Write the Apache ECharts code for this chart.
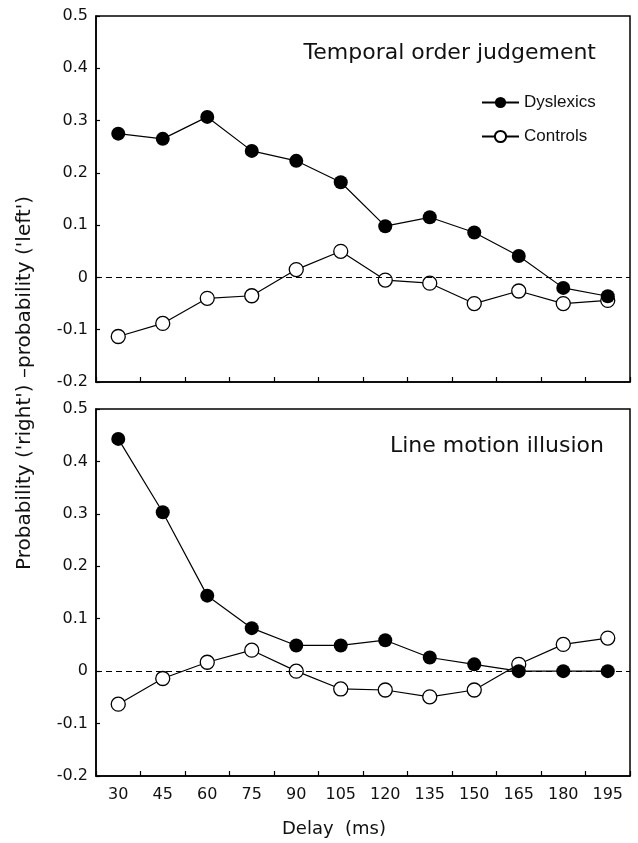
<!DOCTYPE html>
<html>
<head>
<meta charset="utf-8">
<script src="https://cdn.jsdelivr.net/npm/echarts@6/dist/echarts.min.js"></script>
<style>
  html, body { margin: 0; padding: 0; background: #fff; }
  #chart { width: 638px; height: 843px; }
</style>
</head>
<body>
<div id="chart"></div>
<script>
  // delay categories (ms)
  var delays = ['30', '45', '60', '75', '90', '105', '120', '135', '150', '165', '180', '195']
  // temporal order judgement
  var tojDyslexics = [0.275, 0.265, 0.307, 0.242, 0.223, 0.182, 0.098, 0.115, 0.086, 0.041, -0.020, -0.036]
  var tojControls = [-0.113, -0.088, -0.040, -0.035, 0.015, 0.050, -0.005, -0.011, -0.050, -0.026, -0.050, -0.044]
  // line motion illusion
  var lmiDyslexics = [0.443, 0.303, 0.144, 0.082, 0.049, 0.049, 0.059, 0.026, 0.013, 0, 0, 0]
  var lmiControls = [-0.063, -0.014, 0.017, 0.040, 0, -0.034, -0.036, -0.049, -0.036, 0.013, 0.051, 0.063]
  var seriesNames = ['Dyslexics', 'Controls']
  var panelTitles = ['Temporal order judgement', 'Line motion illusion']
  var yMin = -0.2
  var yMax = 0.5
  var yStep = 0.1

  var FONT = 'DejaVu Sans'
  var chart = echarts.init(document.getElementById('chart'), null, {renderer: 'canvas'})

  function xAxisFor (idx, showLabels) {
    return {
      type: 'category',
      gridIndex: idx,
      data: delays,
      boundaryGap: true,
      axisLine: {onZero: false, lineStyle: {color: '#000', width: 1.5}},
      axisTick: {show: true, inside: true, length: 5, lineStyle: {color: '#000', width: 1.2}},
      axisLabel: {show: showLabels, color: '#111', fontFamily: FONT, fontSize: 16, margin: 11},
      splitLine: {show: false}
    }
  }

  function yAxisFor (idx) {
    return {
      type: 'value',
      gridIndex: idx,
      min: yMin,
      max: yMax,
      interval: yStep,
      axisLine: {show: true, onZero: false, lineStyle: {color: '#000', width: 1.5}},
      axisTick: {show: true, inside: true, length: 4, lineStyle: {color: '#000', width: 1.2}},
      axisLabel: {
        color: '#111',
        fontFamily: FONT,
        fontSize: 16,
        margin: 8,
        formatter: function (v) { return String(Math.round(v * 10) / 10) }
      },
      splitLine: {show: false}
    }
  }

  function lineSeries (name, idx, data, filled, withZero) {
    var s = {
      name: name,
      type: 'line',
      xAxisIndex: idx,
      yAxisIndex: idx,
      data: data,
      symbol: 'circle',
      symbolSize: 14,
      lineStyle: {color: '#000', width: 1.2},
      itemStyle: {
        color: filled ? '#000' : '#fff',
        borderColor: '#000',
        borderWidth: filled ? 0 : 1.3
      },
      emphasis: {disabled: true}
    }
    if (withZero) {
      s.markLine = {
        silent: true,
        symbol: 'none',
        label: {show: false},
        lineStyle: {color: '#000', width: 1.2, type: [6, 4]},
        data: [{yAxis: 0}]
      }
    }
    return s
  }

  chart.setOption({
    animation: false,
    backgroundColor: '#fff',
    grid: [
      {left: 96, right: 8, top: 16, height: 366, show: true, borderColor: '#000', borderWidth: 1.5, backgroundColor: 'transparent'},
      {left: 96, right: 8, top: 409, height: 367, show: true, borderColor: '#000', borderWidth: 1.5, backgroundColor: 'transparent'}
    ],
    title: [
      {text: panelTitles[0], right: 42, top: 42, padding: 0, textStyle: {fontFamily: FONT, fontSize: 22, fontWeight: 'normal', color: '#111'}},
      {text: panelTitles[1], right: 34, top: 435, padding: 0, textStyle: {fontFamily: FONT, fontSize: 22, fontWeight: 'normal', color: '#111'}},
      {text: 'Delay  (ms)', left: 282, top: 820, padding: 0, textStyle: {fontFamily: FONT, fontSize: 18, fontWeight: 'normal', color: '#111'}}
    ],
    legend: {
      data: seriesNames,
      orient: 'vertical',
      left: 476,
      top: 89,
      itemWidth: 37,
      itemHeight: 14,
      itemGap: 17,
      selectedMode: false,
      textStyle: {fontFamily: 'Liberation Sans', fontSize: 17, color: '#111'}
    },
    graphic: [{
      type: 'text',
      x: 25,
      y: 383,
      rotation: Math.PI / 2,
      style: {
        text: 'Probability (\'right\') \u2013probability (\'left\')',
        font: '20px "DejaVu Sans"',
        fill: '#111',
        align: 'center',
        verticalAlign: 'middle'
      }
    }],
    xAxis: [xAxisFor(0, false), xAxisFor(1, true)],
    yAxis: [yAxisFor(0), yAxisFor(1)],
    series: [
      lineSeries(seriesNames[1], 0, tojControls, false, true),
      lineSeries(seriesNames[0], 0, tojDyslexics, true, false),
      lineSeries(seriesNames[1], 1, lmiControls, false, true),
      lineSeries(seriesNames[0], 1, lmiDyslexics, true, false)
    ]
  })
</script>
</body>
</html>
